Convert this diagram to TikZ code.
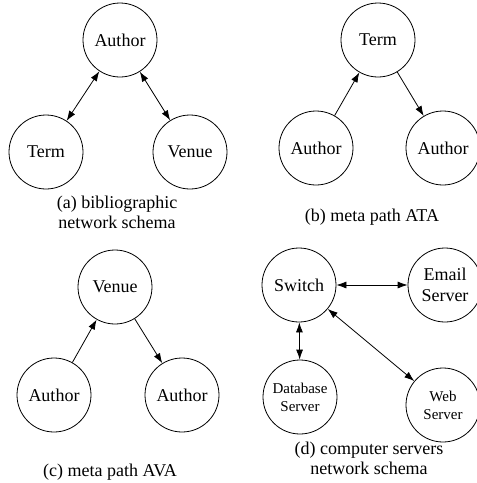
\documentclass[tikz,border=0pt]{standalone}
\usepackage{fontspec}
\setmainfont{Liberation Serif}
\usetikzlibrary{arrows.meta}

\tikzset{
  entity/.style={draw, circle, line width=0.8pt, minimum size=74pt, inner sep=0pt,
    align=center, font=\fontsize{18}{21}\selectfont},
  smallentity/.style={entity, font=\fontsize{15}{18}\selectfont},
  oneway/.style={line width=0.8pt, -{Latex[length=10pt,width=7pt]}},
  twoway/.style={line width=0.8pt, {Latex[length=10pt,width=7pt]}-{Latex[length=10pt,width=7pt]}},
  caption/.style={align=center, font=\fontsize{18}{20}\selectfont}
}

\begin{document}
\begin{tikzpicture}[x=1pt,y=-1pt]
\useasboundingbox (0,0) rectangle (477,483);

% (a) bibliographic schema
\node[entity] (aAuth) at (120,40) {Author};
\node[entity] (aTerm) at (46,152) {Term};
\node[entity] (aVenue) at (190,152) {Venue};
\draw[twoway] (aAuth) -- (aTerm);
\draw[twoway] (aAuth) -- (aVenue);
\node[caption] (aCap) at (117,212) {(a) bibliographic\\network schema};

% (b) path Author-Term-Author
\node[entity] (bTerm) at (378,40) {Term};
\node[entity] (bAuthL) at (316,148) {Author};
\node[entity] (bAuthR) at (443,148) {Author};
\draw[oneway] (bAuthL) -- (bTerm);
\draw[oneway] (bTerm) -- (bAuthR);
\node[caption] (bCap) at (372,217) {(b) meta path ATA};

% (c) path Author-Venue-Author
\node[entity] (cVenue) at (115,287) {Venue};
\node[entity] (cAuthL) at (54,395) {Author};
\node[entity] (cAuthR) at (182,395) {Author};
\draw[oneway] (cAuthL) -- (cVenue);
\draw[oneway] (cVenue) -- (cAuthR);
\node[caption] (cCap) at (110,472) {(c) meta path AVA};

% (d) servers around a switch
\node[entity] (dSwitch) at (299,285) {Switch};
\node[entity] (dMail) at (445,285) {Email\\Server};
\node[smallentity] (dBase) at (300,397) {Database\\Server};
\node[smallentity] (dWeb) at (443,405) {Web\\Server};
\draw[twoway] (dSwitch) -- (dMail);
\draw[twoway] (dSwitch) -- (dBase);
\draw[twoway] (dSwitch) -- (dWeb);
\node[caption] (dCap) at (369,458) {(d) computer servers\\network schema};
\end{tikzpicture}
\end{document}
